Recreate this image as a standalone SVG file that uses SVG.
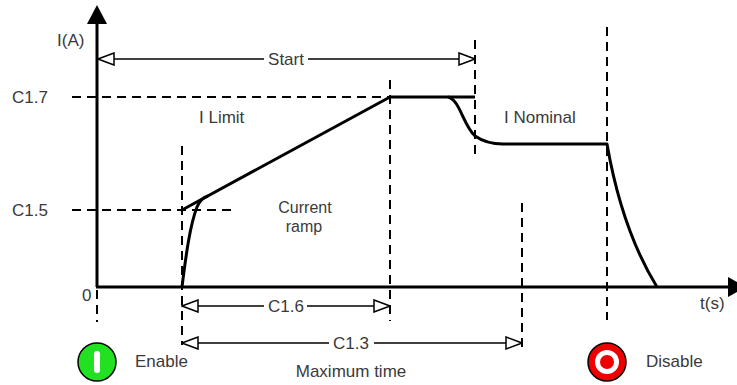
<svg xmlns="http://www.w3.org/2000/svg" width="737" height="385" viewBox="0 0 737 385">
  <style>
    .t { font-family: "Liberation Sans", Arial, sans-serif; font-size: 17px; fill: #3a3a3a; }
    .m { text-anchor: middle; }
    .s { font-size: 16px; }
    .dash { stroke: #000; stroke-width: 2; stroke-dasharray: 9 6; fill: none; }
    .axis { stroke: #000; stroke-width: 3; fill: none; }
    .curve { stroke: #000; stroke-width: 3; fill: none; stroke-linejoin: round; }
    .dim { stroke: #000; stroke-width: 1.5; fill: none; }
  </style>
  <defs>
    <marker id="open" viewBox="0 0 18 14" refX="17" refY="7" markerWidth="18" markerHeight="14" markerUnits="userSpaceOnUse" orient="auto-start-reverse">
      <path d="M1,1 L17,7 L1,13 Z" fill="#fff" stroke="#000" stroke-width="1.5"/>
    </marker>
  </defs>
  <rect width="737" height="385" fill="#fff"/>

  <g id="guides">
    <line class="dash" x1="72" y1="97" x2="390" y2="97"/>
    <line class="dash" x1="72" y1="210" x2="237" y2="210"/>
    <line class="dash" x1="97" y1="290" x2="97" y2="322"/>
    <line class="dash" x1="182" y1="146" x2="182" y2="345"/>
    <line class="dash" x1="390" y1="80" x2="390" y2="321"/>
    <line class="dash" x1="475" y1="40" x2="475" y2="160"/>
    <line class="dash" x1="522" y1="203" x2="522" y2="348"/>
    <line class="dash" x1="607" y1="27" x2="607" y2="320"/>
  </g>

  <g id="axes">
    <line class="axis" x1="97" y1="287" x2="97" y2="20"/>
    <polygon points="97,5 87,24 107,24" fill="#000"/>
    <line class="axis" x1="96" y1="287" x2="730" y2="287"/>
    <polygon points="746,287 728,277 728,297" fill="#000"/>
  </g>

  <g id="current-curve">
    <path class="curve" d="M182,210 L390,97 L475,97"/>
    <path class="curve" d="M182,287 C186,255 190,225 197,207 C200,200 204,197 208,196"/>
    <path class="curve" d="M448,97 C460,100 463,125 475,136 C485,143 495,144 503,144 L607,144 Q622,230 657,287"/>
  </g>

  <g id="connectors">
    <line class="dim" x1="98" y1="59" x2="264" y2="59" marker-start="url(#open)"/>
    <line class="dim" x1="308" y1="59" x2="475" y2="59" marker-end="url(#open)"/>
    <line class="dim" x1="182" y1="306" x2="264" y2="306" marker-start="url(#open)"/>
    <line class="dim" x1="307" y1="306" x2="390" y2="306" marker-end="url(#open)"/>
    <line class="dim" x1="182" y1="343" x2="329" y2="343" marker-start="url(#open)"/>
    <line class="dim" x1="374" y1="343" x2="522" y2="343" marker-end="url(#open)"/>
  </g>

  <g id="labels">
    <text class="t" x="57" y="46">I(A)</text>
    <text class="t m" x="286" y="65">Start</text>
    <text class="t" x="12" y="103">C1.7</text>
    <text class="t" x="12" y="216">C1.5</text>
    <text class="t" x="82" y="301">0</text>
    <text class="t" x="199" y="123">I Limit</text>
    <text class="t" x="504" y="123">I Nominal</text>
    <text class="t s m" x="305" y="213">Current</text>
    <text class="t s m" x="304" y="232">ramp</text>
    <text class="t" x="700" y="309">t(s)</text>
    <text class="t m" x="286" y="312">C1.6</text>
    <text class="t m" x="351" y="349">C1.3</text>
    <text class="t m" x="351" y="377">Maximum time</text>
  </g>

  <g id="enable">
    <circle cx="97" cy="362" r="19" fill="#22e022" stroke="#000" stroke-width="1.5"/>
    <rect x="94" y="351" width="6" height="22" rx="3" fill="#fff"/>
    <text class="t" x="135" y="367">Enable</text>
  </g>

  <g id="disable">
    <circle cx="607" cy="362" r="19" fill="#ee0000" stroke="#000" stroke-width="1.5"/>
    <circle cx="607" cy="362" r="12" fill="#fff"/>
    <circle cx="607" cy="362" r="7" fill="#ee0000"/>
    <text class="t" x="646" y="367">Disable</text>
  </g>
</svg>
